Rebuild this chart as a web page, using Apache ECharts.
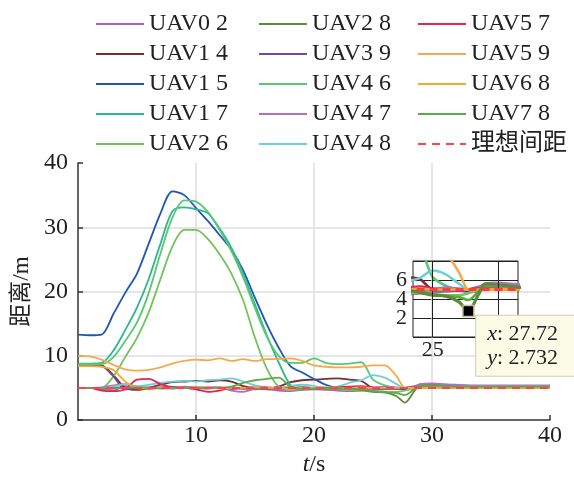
<!DOCTYPE html>
<html>
<head>
<meta charset="utf-8">
<script src="https://cdn.jsdelivr.net/npm/echarts@6/dist/echarts.min.js"></script>
<style>
  html, body { margin: 0; padding: 0; background: #fff; }
  #chart { width: 574px; height: 482px; }
</style>
</head>
<body>
<div id="chart"></div>
<script>
// 时间轴 (s)
const times = [0, 1, 2, 3, 4, 5, 6, 7, 8, 9, 10, 11, 12, 13, 14, 15, 16, 17, 18, 19, 20,
  21, 22, 23, 24, 25, 26, 27, 27.7, 28.5, 29, 30, 31, 32, 34, 36, 38, 40]

// 各无人机对之间的距离 (m)
const uav02 = [5.0, 5.0, 4.8, 4.6, 5.3, 5.2, 4.8, 5.1, 5.2, 5.0, 4.9, 5.0, 5.1, 4.8, 5.0, 5.0, 4.8, 4.6, 4.5, 4.7, 4.8,
  4.7, 4.6, 4.5, 4.6, 4.7, 4.8, 4.9, 5.0, 5.3, 5.5, 5.6, 5.5, 5.4, 5.3, 5.3, 5.3, 5.3]
const uav14 = [8.6, 8.6, 8.5, 7.0, 5.0, 4.7, 5.0, 5.5, 5.9, 6.0, 6.1, 6.0, 6.2, 6.0, 5.3, 5.0, 4.9, 5.2, 5.9, 6.2, 6.3,
  6.4, 6.5, 6.3, 6.1, 5.0, 4.9, 5.0, 5.0, 5.1, 5.3, 5.3, 5.2, 5.2, 5.2, 5.2, 5.2, 5.2]
const uav15 = [13.3, 13.2, 13.3, 16.5, 19.8, 22.8, 27.5, 32.2, 35.6, 35.0, 33.0, 31.0, 28.8, 26.5, 23.3, 19.0, 14.9, 11.3, 8.4, 7.4, 6.4,
  5.5, 5.0, 4.8, 4.9, 5.0, 5.1, 4.9, 4.8, 4.8, 5.2, 5.2, 5.1, 5.1, 5.1, 5.1, 5.1, 5.1]
const uav17 = [8.8, 8.8, 8.9, 10.8, 14.0, 17.5, 22.0, 27.5, 32.5, 33.1, 32.8, 32.2, 29.8, 26.8, 22.8, 18.0, 13.2, 9.0, 5.5, 4.8, 5.0,
  5.1, 4.9, 5.0, 5.1, 5.0, 4.9, 5.0, 5.0, 5.0, 5.3, 5.2, 5.1, 5.1, 5.1, 5.2, 5.2, 5.2]
const uav26 = [5.0, 5.0, 5.0, 6.8, 9.8, 12.8, 16.8, 22.0, 27.0, 29.6, 29.6, 28.2, 25.8, 22.8, 18.6, 12.8, 8.0, 5.2, 4.7, 4.8, 5.0,
  4.9, 4.8, 4.7, 4.6, 4.5, 4.4, 4.4, 4.6, 5.0, 5.3, 5.1, 5.1, 5.1, 5.1, 5.1, 5.1, 5.1]
const uav28 = [5.0, 5.0, 5.0, 5.1, 5.0, 4.9, 5.0, 5.0, 5.1, 5.0, 5.0, 4.9, 5.0, 5.1, 4.9, 4.8, 4.9, 5.0, 5.0, 5.1, 5.0,
  4.9, 5.0, 4.9, 4.7, 4.4, 4.3, 3.7, 2.73, 4.5, 5.6, 5.5, 5.3, 5.2, 5.1, 5.1, 5.1, 5.1]
const uav39 = [8.5, 8.5, 8.4, 6.8, 4.8, 5.0, 5.1, 5.0, 4.9, 5.1, 5.0, 5.1, 5.0, 4.9, 5.0, 5.1, 5.0, 4.9, 5.0, 5.1, 5.0,
  5.0, 4.9, 5.0, 5.1, 5.0, 5.0, 4.9, 5.0, 5.1, 5.2, 5.3, 5.3, 5.2, 5.2, 5.2, 5.2, 5.2]
const uav46 = [8.7, 8.7, 8.7, 9.8, 12.3, 15.2, 19.8, 26.0, 31.5, 34.2, 34.0, 32.4, 29.6, 26.3, 22.2, 17.4, 13.0, 10.0, 8.9, 8.9, 9.6,
  8.9, 8.7, 8.8, 9.0, 6.3, 5.4, 5.0, 5.0, 5.0, 5.1, 5.0, 5.0, 5.0, 5.0, 5.0, 5.0, 5.0]
const uav47 = [5.0, 5.0, 5.1, 5.4, 5.6, 5.2, 5.0, 5.1, 5.0, 5.2, 5.1, 5.0, 5.1, 4.6, 4.4, 4.9, 5.0, 5.1, 5.0, 4.8, 4.9,
  5.0, 5.1, 5.0, 4.9, 5.0, 5.2, 5.1, 5.0, 5.2, 5.6, 5.7, 5.6, 5.5, 5.4, 5.4, 5.4, 5.4]
const uav48 = [5.0, 5.0, 5.0, 5.2, 5.6, 5.3, 5.5, 5.8, 6.0, 6.1, 6.0, 6.2, 6.3, 6.5, 6.0, 5.4, 5.1, 5.0, 5.3, 5.5, 5.3,
  5.0, 5.2, 5.8, 6.2, 7.0, 6.6, 5.6, 5.0, 5.0, 5.1, 5.2, 5.2, 5.2, 5.2, 5.2, 5.2, 5.2]
const uav57 = [5.0, 5.0, 4.6, 4.5, 4.8, 6.3, 6.4, 5.6, 5.1, 5.0, 4.8, 4.4, 4.6, 5.0, 4.9, 5.0, 5.1, 4.9, 5.0, 5.0, 4.9,
  5.0, 5.1, 5.2, 5.3, 5.1, 5.0, 4.9, 5.0, 5.1, 5.1, 5.1, 5.0, 5.0, 5.0, 5.0, 5.0, 5.0]
const uav59 = [10.0, 9.9, 9.4, 8.6, 7.9, 7.7, 7.8, 8.2, 8.8, 9.2, 9.4, 9.3, 9.6, 9.2, 9.5, 9.2, 9.5, 9.5, 9.6, 9.2, 8.5,
  8.3, 8.2, 8.2, 8.3, 8.5, 8.5, 6.8, 5.0, 4.9, 5.0, 5.0, 5.0, 5.0, 5.0, 5.0, 5.0, 5.0]
const uav68 = [8.4, 8.4, 8.3, 7.8, 6.0, 5.0, 4.9, 5.0, 5.0, 5.0, 5.1, 5.0, 4.9, 5.0, 5.0, 5.1, 5.0, 5.0, 4.9, 5.0, 5.0,
  5.1, 5.0, 5.0, 5.1, 5.0, 5.0, 5.0, 5.0, 5.0, 5.0, 5.0, 5.0, 5.0, 5.0, 5.0, 5.0, 5.0]
const uav78 = [5.0, 5.0, 5.0, 4.9, 5.0, 5.1, 5.0, 4.9, 5.0, 5.0, 5.1, 5.0, 5.0, 5.2, 5.8, 6.2, 6.4, 6.6, 5.2, 4.8, 4.9,
  5.0, 5.0, 4.9, 4.8, 4.5, 4.3, 4.2, 3.9, 4.8, 5.4, 5.4, 5.3, 5.2, 5.2, 5.2, 5.2, 5.2]
const idealGap = 5
const datatip = [27.72, 2.732]

// 图例分三列
const legendCol1 = ['UAV0 2', 'UAV1 4', 'UAV1 5', 'UAV1 7', 'UAV2 6']
const legendCol2 = ['UAV2 8', 'UAV3 9', 'UAV4 6', 'UAV4 7', 'UAV4 8']
const legendCol3 = ['UAV5 7', 'UAV5 9', 'UAV6 8', 'UAV7 8', '理想间距']

const font = '"Liberation Serif", "Noto Sans CJK SC", serif'

const pairs = [
  { name: 'UAV0 2', values: uav02, color: '#a865b5' },
  { name: 'UAV1 4', values: uav14, color: '#7a2e2e' },
  { name: 'UAV1 5', values: uav15, color: '#1f55b5' },
  { name: 'UAV1 7', values: uav17, color: '#2bb88c' },
  { name: 'UAV2 6', values: uav26, color: '#72c45a' },
  { name: 'UAV2 8', values: uav28, color: '#5e8a3a' },
  { name: 'UAV3 9', values: uav39, color: '#6a4ea0' },
  { name: 'UAV4 6', values: uav46, color: '#58c872' },
  { name: 'UAV4 7', values: uav47, color: '#b070c0' },
  { name: 'UAV4 8', values: uav48, color: '#6cd0d8' },
  { name: 'UAV5 7', values: uav57, color: '#e0245a' },
  { name: 'UAV5 9', values: uav59, color: '#f5a94e' },
  { name: 'UAV6 8', values: uav68, color: '#f8a830' },
  { name: 'UAV7 8', values: uav78, color: '#5aaa4a' }
]

const chart = echarts.init(document.getElementById('chart'))

function toPoints(values) {
  return times.map((t, i) => [t, values[i]])
}
const idealPoints = [[times[0], idealGap], [times[times.length - 1], idealGap]]

const series = []
// 主图
pairs.forEach(p => {
  series.push({
    name: p.name,
    type: 'line',
    xAxisIndex: 0,
    yAxisIndex: 0,
    data: toPoints(p.values),
    smooth: 0.3,
    symbol: 'none',
    color: p.color,
    lineStyle: { width: 1.8, color: p.color }
  })
})
series.push({
  name: '理想间距',
  type: 'line',
  xAxisIndex: 0,
  yAxisIndex: 0,
  data: idealPoints,
  symbol: 'none',
  color: '#ff4444',
  z: 5,
  lineStyle: { width: 2, type: [8, 6], color: '#ff4444' }
})
// 局部放大图
pairs.forEach(p => {
  const s = {
    name: p.name,
    type: 'line',
    xAxisIndex: 1,
    yAxisIndex: 1,
    data: toPoints(p.values),
    smooth: 0.3,
    symbol: 'none',
    color: p.color,
    lineStyle: { width: 2.6, color: p.color }
  }
  if (p.name === 'UAV2 8') {
    s.z = 4
    s.lineStyle.width = 3.2
    // 数据提示框
    s.markPoint = {
      symbol: 'rect',
      symbolSize: 11,
      silent: true,
      itemStyle: { color: '#000', borderColor: '#c8b896', borderWidth: 1.5 },
      label: {
        show: true,
        position: [14, 11],
        formatter: '{i|x}: ' + datatip[0] + '\n{i|y}: ' + datatip[1],
        fontFamily: font,
        fontSize: 22,
        lineHeight: 24,
        color: '#222',
        align: 'left',
        verticalAlign: 'top',
        backgroundColor: '#fbfbe6',
        borderColor: '#cfcfb4',
        borderWidth: 1,
        padding: [6, 20, 6, 11],
        rich: {
          i: { fontStyle: 'italic', fontFamily: font, fontSize: 22, lineHeight: 24, color: '#222' }
        }
      },
      data: [{ coord: datatip }]
    }
  }
  series.push(s)
})
series.push({
  name: '理想间距',
  type: 'line',
  xAxisIndex: 1,
  yAxisIndex: 1,
  data: idealPoints,
  symbol: 'none',
  color: '#ff4444',
  z: 6,
  lineStyle: { width: 3, type: [8, 5], color: '#ff3c3c' },
  markLine: {
    silent: true,
    symbol: 'none',
    label: { show: false },
    lineStyle: { color: '#222', width: 1, type: 'solid' },
    data: [{ xAxis: 25 }, { xAxis: 30 }]
  }
})

function makeLegend(left, data) {
  return {
    orient: 'vertical',
    left: left,
    top: 7,
    itemWidth: 48,
    itemHeight: 14,
    itemGap: 6,
    selectedMode: false,
    // 只显示线段，不显示圆点
    itemStyle: { color: 'transparent', borderColor: 'transparent', borderWidth: 0 },
    textStyle: { fontFamily: font, fontSize: 24, color: '#222', lineHeight: 24 },
    data: data
  }
}

const axisColor = '#333'
const option = {
  animation: false,
  backgroundColor: '#fff',
  legend: [makeLegend(90, legendCol1), makeLegend(253, legendCol2), makeLegend(412, legendCol3)],
  grid: [
    { left: 78, top: 163, width: 472, height: 261 },
    { left: 413, top: 261, width: 105, height: 76, show: true, borderColor: '#222', borderWidth: 1, backgroundColor: 'transparent', z: 3 }
  ],
  xAxis: [
    {
      type: 'value', gridIndex: 0, min: 0, max: 40, interval: 10,
      name: '{i|t}/s', nameLocation: 'middle', nameGap: 31,
      nameTextStyle: {
        fontFamily: font, fontSize: 24, color: '#222',
        rich: { i: { fontStyle: 'italic', fontFamily: font, fontSize: 24, color: '#222' } }
      },
      axisLine: { lineStyle: { color: axisColor, width: 1.5 } },
      axisTick: { inside: true, length: 5, lineStyle: { color: axisColor, width: 1.5 } },
      axisLabel: { showMinLabel: false, fontFamily: font, fontSize: 24, color: '#222', margin: 4 },
      splitLine: { show: true, showMinLine: false, showMaxLine: false, lineStyle: { color: '#dcdcdc', width: 1.5 } }
    },
    {
      type: 'value', gridIndex: 1, min: 23.5, max: 31.5,
      axisLine: { show: false },
      axisTick: { show: false },
      splitLine: { show: false },
      axisLabel: { customValues: [25], fontFamily: font, fontSize: 22, color: '#222', margin: 2 }
    }
  ],
  yAxis: [
    {
      type: 'value', gridIndex: 0, min: 0, max: 40, interval: 10,
      name: '距离/m', nameLocation: 'middle', nameGap: 41,
      nameTextStyle: { fontFamily: font, fontSize: 23, color: '#222' },
      axisLine: { show: true, lineStyle: { color: axisColor, width: 1.5 } },
      axisTick: { show: true, inside: true, length: 5, lineStyle: { color: axisColor, width: 1.5 } },
      axisLabel: { fontFamily: font, fontSize: 24, color: '#222', margin: 10 },
      splitLine: { show: true, showMinLine: false, showMaxLine: false, lineStyle: { color: '#dcdcdc', width: 1.5 } }
    },
    {
      type: 'value', gridIndex: 1, min: 0, max: 8, interval: 2,
      axisLine: { show: false },
      axisTick: { show: false },
      axisLabel: {
        fontFamily: font, fontSize: 22, color: '#222', margin: 6,
        formatter: v => (v > 0 && v < 8 ? String(v) : '')
      },
      splitLine: { show: true, lineStyle: { color: '#222', width: 1 } }
    }
  ],
  series: series
}

chart.setOption(option)
</script>
</body>
</html>
